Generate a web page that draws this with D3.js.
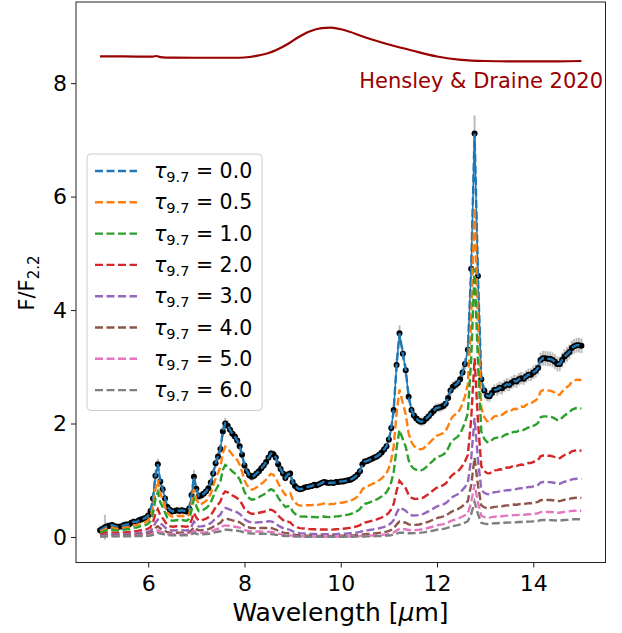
<!DOCTYPE html>
<html>
<head>
<meta charset="utf-8">
<script src="https://cdn.jsdelivr.net/npm/d3@7"></script>
<style>
  body { margin: 0; background: #fff; }
  svg { font-family: "DejaVu Sans", sans-serif; }
</style>
</head>
<body>
<svg id="chart" width="622" height="633"></svg>
<script>
// observed spectrum (wavelength in micron, F/F2.2, 1-sigma error)
const wave = [
  5.00,5.05,5.10,5.15,5.20,5.25,5.30,5.35,5.40,5.45,
  5.50,5.55,5.60,5.65,5.70,5.75,5.80,5.85,5.90,5.95,
  6.00,6.05,6.10,6.15,6.20,6.25,6.30,6.35,6.40,6.45,
  6.50,6.55,6.60,6.65,6.70,6.75,6.80,6.85,6.90,6.95,
  7.00,7.05,7.10,7.15,7.20,7.25,7.30,7.35,7.40,7.45,
  7.50,7.55,7.60,7.65,7.70,7.75,7.80,7.85,7.90,7.95,
  8.00,8.05,8.10,8.15,8.20,8.25,8.30,8.35,8.40,8.45,
  8.50,8.55,8.60,8.65,8.70,8.75,8.80,8.85,8.90,8.95,
  9.00,9.05,9.10,9.15,9.20,9.25,9.30,9.35,9.40,9.45,
  9.50,9.55,9.60,9.65,9.70,9.75,9.80,9.85,9.90,9.95,
  10.00,10.05,10.10,10.15,10.20,10.25,10.30,10.35,10.40,10.45,
  10.50,10.55,10.60,10.65,10.70,10.75,10.80,10.85,10.90,10.95,
  11.00,11.05,11.10,11.16,11.22,11.29,11.35,11.41,11.47,11.52,
  11.57,11.62,11.67,11.72,11.78,11.83,11.88,11.93,11.98,12.03,
  12.08,12.13,12.18,12.23,12.28,12.33,12.38,12.43,12.48,12.53,
  12.58,12.64,12.71,12.78,12.85,12.92,12.98,13.04,13.09,13.14,
  13.19,13.25,13.30,13.35,13.40,13.45,13.50,13.55,13.60,13.65,
  13.70,13.75,13.80,13.85,13.90,13.95,14.00,14.05,14.10,14.15,
  14.20,14.25,14.30,14.35,14.40,14.45,14.50,14.55,14.60,14.65,
  14.70,14.75,14.80,14.85,14.90,14.95,15.00
];
const flux = [
  0.12,0.14,0.17,0.19,0.20,0.21,0.19,0.18,0.18,0.19,
  0.21,0.22,0.22,0.25,0.27,0.26,0.29,0.31,0.32,0.34,
  0.38,0.46,0.68,1.08,1.28,0.98,0.84,0.68,0.53,0.48,
  0.45,0.46,0.47,0.46,0.47,0.46,0.45,0.50,0.74,1.06,
  0.85,0.72,0.73,0.76,0.80,0.86,0.96,1.12,1.30,1.42,
  1.55,1.86,2.00,1.96,1.89,1.82,1.77,1.70,1.60,1.45,
  1.26,1.16,1.09,1.06,1.08,1.12,1.16,1.21,1.26,1.32,
  1.40,1.47,1.46,1.40,1.28,1.20,1.12,1.04,1.10,1.12,
  0.97,0.90,0.86,0.84,0.85,0.87,0.88,0.89,0.90,0.92,
  0.91,0.93,0.95,0.97,0.96,0.95,0.96,0.95,0.97,0.97,
  0.98,0.98,0.99,1.00,1.01,1.03,1.06,1.10,1.16,1.28,
  1.33,1.34,1.36,1.38,1.40,1.42,1.45,1.49,1.54,1.60,
  1.72,1.92,2.24,3.03,3.59,3.23,2.94,2.47,2.24,2.14,
  2.09,2.05,2.03,2.04,2.09,2.13,2.18,2.22,2.27,2.28,
  2.29,2.31,2.35,2.45,2.58,2.65,2.68,2.71,2.78,2.90,
  3.05,3.30,4.73,7.11,4.60,2.78,2.58,2.49,2.48,2.54,
  2.59,2.60,2.63,2.62,2.66,2.69,2.68,2.72,2.75,2.74,
  2.78,2.80,2.79,2.83,2.86,2.86,2.90,2.93,2.98,3.12,
  3.15,3.15,3.14,3.14,3.12,3.09,3.05,3.05,3.12,3.18,
  3.22,3.26,3.33,3.36,3.38,3.38,3.37
];
const fluxErr = [
  0.08,0.07,0.22,0.07,0.06,0.06,0.06,0.06,0.06,0.06,
  0.06,0.06,0.06,0.06,0.06,0.06,0.06,0.06,0.06,0.06,
  0.07,0.08,0.09,0.10,0.10,0.09,0.08,0.07,0.06,0.06,
  0.06,0.06,0.06,0.06,0.06,0.06,0.06,0.07,0.09,0.12,
  0.08,0.07,0.07,0.07,0.07,0.07,0.07,0.08,0.08,0.08,
  0.09,0.10,0.10,0.10,0.09,0.08,0.08,0.08,0.08,0.07,
  0.07,0.07,0.07,0.07,0.07,0.07,0.07,0.07,0.07,0.07,
  0.07,0.07,0.07,0.07,0.07,0.07,0.06,0.06,0.06,0.06,
  0.06,0.05,0.05,0.05,0.05,0.05,0.05,0.05,0.05,0.05,
  0.05,0.05,0.05,0.05,0.05,0.05,0.05,0.05,0.05,0.05,
  0.05,0.05,0.05,0.05,0.05,0.05,0.05,0.05,0.06,0.06,
  0.06,0.06,0.06,0.06,0.06,0.06,0.06,0.06,0.06,0.07,
  0.07,0.08,0.09,0.11,0.14,0.12,0.11,0.09,0.08,0.08,
  0.08,0.08,0.08,0.08,0.08,0.08,0.08,0.08,0.08,0.08,
  0.08,0.08,0.09,0.09,0.09,0.09,0.09,0.09,0.09,0.10,
  0.10,0.12,0.18,0.32,0.18,0.11,0.10,0.10,0.10,0.10,
  0.10,0.11,0.11,0.11,0.11,0.11,0.11,0.11,0.11,0.11,
  0.11,0.11,0.11,0.11,0.11,0.11,0.12,0.12,0.12,0.13,
  0.13,0.13,0.13,0.13,0.13,0.13,0.13,0.13,0.13,0.13,
  0.13,0.13,0.13,0.13,0.13,0.13,0.13
];

// Hensley & Draine 2020 extinction profile, drawn offset by +8
const hdWave = [5.0,5.5,6.0,6.1,6.17,6.25,6.5,7.0,7.5,7.9,8.1,8.3,8.5,8.65,8.9,
  9.1,9.35,9.6,9.8,10.05,10.5,11.0,11.5,12.0,12.5,13.0,13.5,14.0,14.5,15.0];
const hdCurve = [8.47,8.47,8.467,8.468,8.478,8.458,8.448,8.447,8.447,8.447,8.46,8.49,8.53,8.58,8.69,
  8.80,8.91,8.97,8.98,8.94,8.81,8.68,8.57,8.47,8.41,8.39,8.385,8.385,8.385,8.39];
const hdOffset = 8;

const tauValues = [0.0, 0.5, 1.0, 2.0, 3.0, 4.0, 5.0, 6.0];
const tauColors = ["#1f77b4","#ff7f0e","#2ca02c","#d62728","#9467bd","#8c564b","#e377c2","#7f7f7f"];

const xTicks = [6, 8, 10, 12, 14];
const yTicks = [0, 2, 4, 6, 8];

const svg = d3.select("#chart");

const x = d3.scaleLinear().domain([4.5, 15.5]).range([76, 605.5]);
const y = d3.scaleLinear().domain([-0.45, 9.43]).range([562.5, 2]);

// extinction relative to 9.7 micron, read from the H&D curve
const hdPeak = d3.max(hdCurve) - hdOffset;
const extRatio = d3.scaleLinear().domain(hdWave).range(hdCurve.map(v => (v - hdOffset) / hdPeak));

const spec = wave.map((w, i) => ({ w: w, f: flux[i], e: fluxErr[i] }));

const plot = svg.append("g");

// error bars
plot.selectAll("line.err")
  .data(spec)
  .enter()
  .append("line")
  .attr("class", "err")
  .attr("x1", d => x(d.w))
  .attr("x2", d => x(d.w))
  .attr("y1", d => y(d.f - d.e))
  .attr("y2", d => y(d.f + d.e))
  .attr("stroke", "#bdbdbd")
  .attr("stroke-width", 2);

const line = d3.line().x(d => x(d.w)).y(d => y(d.f));

plot.append("path")
  .datum(spec)
  .attr("d", line)
  .attr("fill", "none")
  .attr("stroke", "#1f77b4")
  .attr("stroke-width", 1.5);

plot.selectAll("circle")
  .data(spec)
  .enter()
  .append("circle")
  .attr("cx", d => x(d.w))
  .attr("cy", d => y(d.f))
  .attr("r", 3)
  .attr("fill", "#000");

// attenuated spectra for each tau_9.7
tauValues.forEach((tau, k) => {
  const model = spec.map(d => ({ w: d.w, f: d.f * Math.exp(-tau * extRatio(d.w)) }));
  plot.append("path")
    .datum(model)
    .attr("d", line)
    .attr("fill", "none")
    .attr("stroke", tauColors[k])
    .attr("stroke-width", 2.4)
    .attr("stroke-dasharray", "8,3.5");
});

// H&D curve
const hd = hdWave.map((w, i) => ({ w: w, f: hdCurve[i] }));
plot.append("path")
  .datum(hd)
  .attr("d", d3.line().x(d => x(d.w)).y(d => y(d.f)).curve(d3.curveMonotoneX))
  .attr("fill", "none")
  .attr("stroke", "#990000")
  .attr("stroke-width", 2.2);

svg.append("text")
  .attr("x", 603)
  .attr("y", 88)
  .attr("text-anchor", "end")
  .attr("fill", "#990000")
  .style("font-size", "21px")
  .text("Hensley & Draine 2020");

// axes
const xAxis = svg.append("g")
  .attr("transform", "translate(0,562.5)")
  .call(d3.axisBottom(x).tickValues(xTicks).tickSize(5).tickPadding(8).tickFormat(d3.format("d")));
const yAxis = svg.append("g")
  .attr("transform", "translate(76,0)")
  .call(d3.axisLeft(y).tickValues(yTicks).tickSize(5).tickPadding(4).tickFormat(d3.format("d")));
[xAxis, yAxis].forEach(g => {
  g.select(".domain").remove();
  g.selectAll("text").style("font-size", "22px").style("font-family", "DejaVu Sans").attr("fill", "#000");
  g.selectAll("line").attr("stroke", "#000").attr("stroke-width", 0.9);
});

svg.append("rect")
  .attr("x", 76).attr("y", 2)
  .attr("width", 529.5).attr("height", 560.5)
  .attr("fill", "none")
  .attr("stroke", "#222")
  .attr("stroke-width", 1);

// axis labels
const xl = svg.append("text")
  .attr("x", 340.5).attr("y", 621)
  .attr("text-anchor", "middle")
  .style("font-size", "25px");
xl.append("tspan").text("Wavelength [");
xl.append("tspan").style("font-style", "italic").text("μ");
xl.append("tspan").text("m]");

const yl = svg.append("text")
  .attr("transform", "translate(34,283) rotate(-90)")
  .attr("text-anchor", "middle")
  .style("font-size", "21px");
yl.append("tspan").text("F/F");
yl.append("tspan").attr("dy", 5).style("font-size", "15px").text("2.2");

// legend
const leg = svg.append("g");
leg.append("rect")
  .attr("x", 87).attr("y", 154)
  .attr("width", 175).attr("height", 256.5)
  .attr("rx", 4)
  .attr("fill", "#fff").attr("fill-opacity", 0.8)
  .attr("stroke", "#cccccc");

tauValues.forEach((tau, k) => {
  const cy = 171 + k * 31.3;
  leg.append("line")
    .attr("x1", 95).attr("x2", 137)
    .attr("y1", cy).attr("y2", cy)
    .attr("stroke", tauColors[k])
    .attr("stroke-width", 2.4)
    .attr("stroke-dasharray", "8,3.5");
  const t = leg.append("text")
    .attr("x", 154).attr("y", cy + 7)
    .style("font-size", "20.5px");
  t.append("tspan").style("font-style", "italic").text("τ");
  t.append("tspan").attr("dy", 4).style("font-size", "14.5px").text("9.7");
  t.append("tspan").attr("dy", -4).text(" = " + tau.toFixed(1));
});
</script>
</body>
</html>
